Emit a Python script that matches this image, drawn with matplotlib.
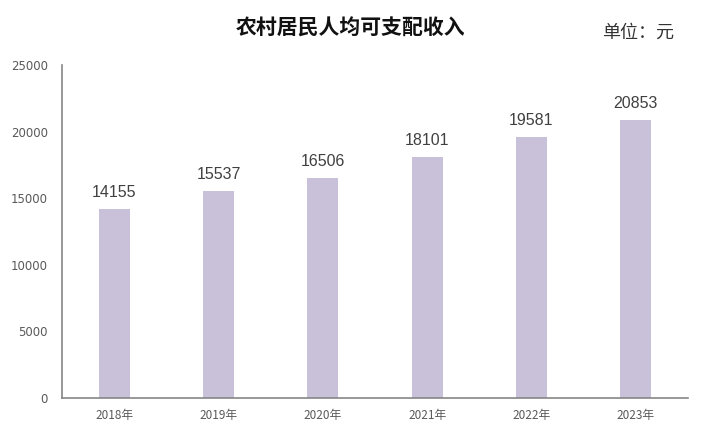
import matplotlib.pyplot as plt

plt.rcParams['font.family'] = ['Noto Sans CJK SC', 'DejaVu Sans']

years = ['2018年', '2019年', '2020年', '2021年', '2022年', '2023年']
income = [14155, 15537, 16506, 18101, 19581, 20853]

fig = plt.figure(figsize=(7.06, 4.38), dpi=100)
ax = fig.add_axes([0.0878, 0.0913, 0.8867, 0.7603])

bars = ax.bar(years, income, width=0.3, color='#C9C1DA')
for b, v in zip(bars, income):
    ax.text(b.get_x() + b.get_width() / 2, v + 700, str(v),
            ha='center', va='bottom', fontsize=11.5, color='#404040',
            family=['Liberation Sans'])

ax.set_ylim(0, 25000)
ax.set_xlim(-0.5, 5.5)
ax.set_yticks(range(0, 25001, 5000))
ax.tick_params(length=0, colors='#595959')
ax.tick_params(axis='x', pad=8, labelsize=8.5)
ax.tick_params(axis='y', pad=10)
for lab in ax.get_yticklabels():
    lab.set_family(['DejaVu Sans'])
    lab.set_fontsize(8.5)
for s in ['top', 'right']:
    ax.spines[s].set_visible(False)
for s in ['left', 'bottom']:
    ax.spines[s].set_color('#868686')
    ax.spines[s].set_linewidth(1.2)

fig.text(0.496, 0.935, '农村居民人均可支配收入', ha='center', va='center',
         fontsize=15, fontweight='bold', color='#111111')
fig.text(0.955, 0.925, '单位：元', ha='right', va='center',
         fontsize=13, color='#333333')

fig.savefig('out.png', dpi=100)
